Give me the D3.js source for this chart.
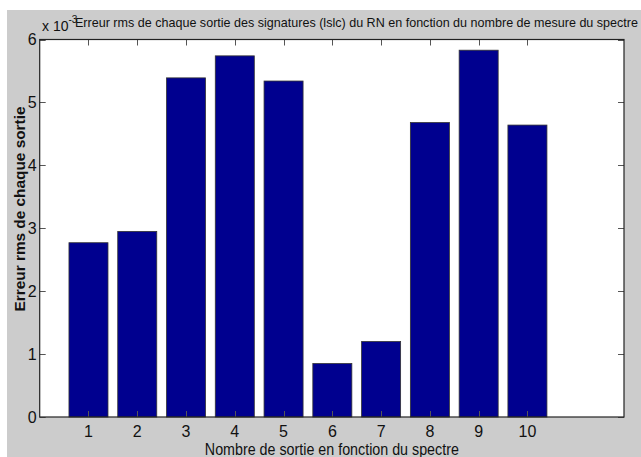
<!DOCTYPE html>
<html>
<head>
<meta charset="utf-8">
<script src="https://cdn.jsdelivr.net/npm/d3@7/dist/d3.min.js"></script>
<style>
  html, body { margin: 0; padding: 0; background: #ffffff; }
  svg { display: block; }
  text { font-family: "Liberation Sans Narrow", "Liberation Sans", Arial, sans-serif; fill: #111; }
</style>
</head>
<body>
<svg id="chart" width="641" height="457"></svg>
<script>
// RMS error per output (units of 1e-3)
const categories = [1, 2, 3, 4, 5, 6, 7, 8, 9, 10];
const rmsError = [2.77, 2.95, 5.39, 5.74, 5.34, 0.85, 1.20, 4.68, 5.83, 4.64];
const yTicks = [0, 1, 2, 3, 4, 5, 6];
const titleText = "Erreur rms de chaque sortie des signatures (lslc) du RN en fonction du nombre de mesure du spectre";
const xLabel = "Nombre de sortie en fonction du spectre";
const yLabel = "Erreur rms de chaque sortie";

const svg = d3.select("#chart");
const W = 641, H = 457;
const plot = { left: 39.7, right: 624, top: 39.5, bottom: 417 };

// figure background
svg.append("rect").attr("x", 7).attr("y", 10).attr("width", W - 7).attr("height", H - 10)
  .attr("fill", "#cccccc");

const x = d3.scaleLinear().domain([0, 11.98]).range([plot.left, plot.right]);
const y = d3.scaleLinear().domain([0, 6]).range([plot.bottom, plot.top]);
const barW = (x(1) - x(0)) * 0.8;

// axes area
svg.append("rect")
  .attr("x", plot.left).attr("y", plot.top)
  .attr("width", plot.right - plot.left).attr("height", plot.bottom - plot.top)
  .attr("fill", "#ffffff");

// bars
svg.append("g").selectAll("rect").data(categories).join("rect")
  .attr("x", (d) => x(d) - barW / 2)
  .attr("y", (d, i) => y(rmsError[i]))
  .attr("width", barW)
  .attr("height", (d, i) => y(0) - y(rmsError[i]))
  .attr("fill", "#00008f")
  .attr("stroke", "#333")
  .attr("stroke-width", 0.8);

// inward ticks on all four sides
const tickLen = 6;
const tk = svg.append("g").attr("stroke", "#555").attr("stroke-width", 1);
categories.forEach((c) => {
  const px = Math.round(x(c)) + 0.5;
  tk.append("line").attr("x1", px).attr("x2", px).attr("y1", plot.bottom).attr("y2", plot.bottom - tickLen);
  tk.append("line").attr("x1", px).attr("x2", px).attr("y1", plot.top).attr("y2", plot.top + tickLen);
});
yTicks.forEach((t) => {
  const py = Math.round(y(t)) + 0.5;
  tk.append("line").attr("x1", plot.left).attr("x2", plot.left + tickLen).attr("y1", py).attr("y2", py);
  tk.append("line").attr("x1", plot.right).attr("x2", plot.right - tickLen).attr("y1", py).attr("y2", py);
});

// axes box
svg.append("rect")
  .attr("x", plot.left).attr("y", plot.top)
  .attr("width", plot.right - plot.left).attr("height", plot.bottom - plot.top)
  .attr("fill", "none").attr("stroke", "#222").attr("stroke-width", 1.2);

// tick labels
svg.append("g").selectAll("text").data(categories).join("text")
  .attr("x", (d) => x(d)).attr("y", 437)
  .attr("text-anchor", "middle").attr("font-size", 16)
  .text((d) => d);
svg.append("g").selectAll("text").data(yTicks).join("text")
  .attr("x", plot.left - 3).attr("y", (d) => y(d) + 5.5)
  .attr("text-anchor", "end").attr("font-size", 16)
  .text((d) => d);

// exponent multiplier
const ex = svg.append("text").attr("x", 42).attr("y", 31).attr("font-size", 14);
ex.append("tspan").text("x 10");
ex.append("tspan").attr("dy", -8).attr("font-size", 10).text("-3");

// title
svg.append("text")
  .attr("x", 75).attr("y", 27).attr("font-size", 13.5)
  .attr("textLength", 563).attr("lengthAdjust", "spacingAndGlyphs")
  .text(titleText);

// x label
svg.append("text")
  .attr("x", (plot.left + plot.right) / 2).attr("y", 455)
  .attr("text-anchor", "middle").attr("font-size", 16)
  .attr("textLength", 254).attr("lengthAdjust", "spacingAndGlyphs")
  .text(xLabel);

// y label
svg.append("text")
  .attr("transform", "translate(25, 209) rotate(-90)")
  .attr("text-anchor", "middle").attr("font-size", 15.5).attr("font-weight", "bold")
  .attr("textLength", 205).attr("lengthAdjust", "spacingAndGlyphs")
  .style("font-family", "'Liberation Sans', Arial, sans-serif")
  .text(yLabel);
</script>
</body>
</html>
